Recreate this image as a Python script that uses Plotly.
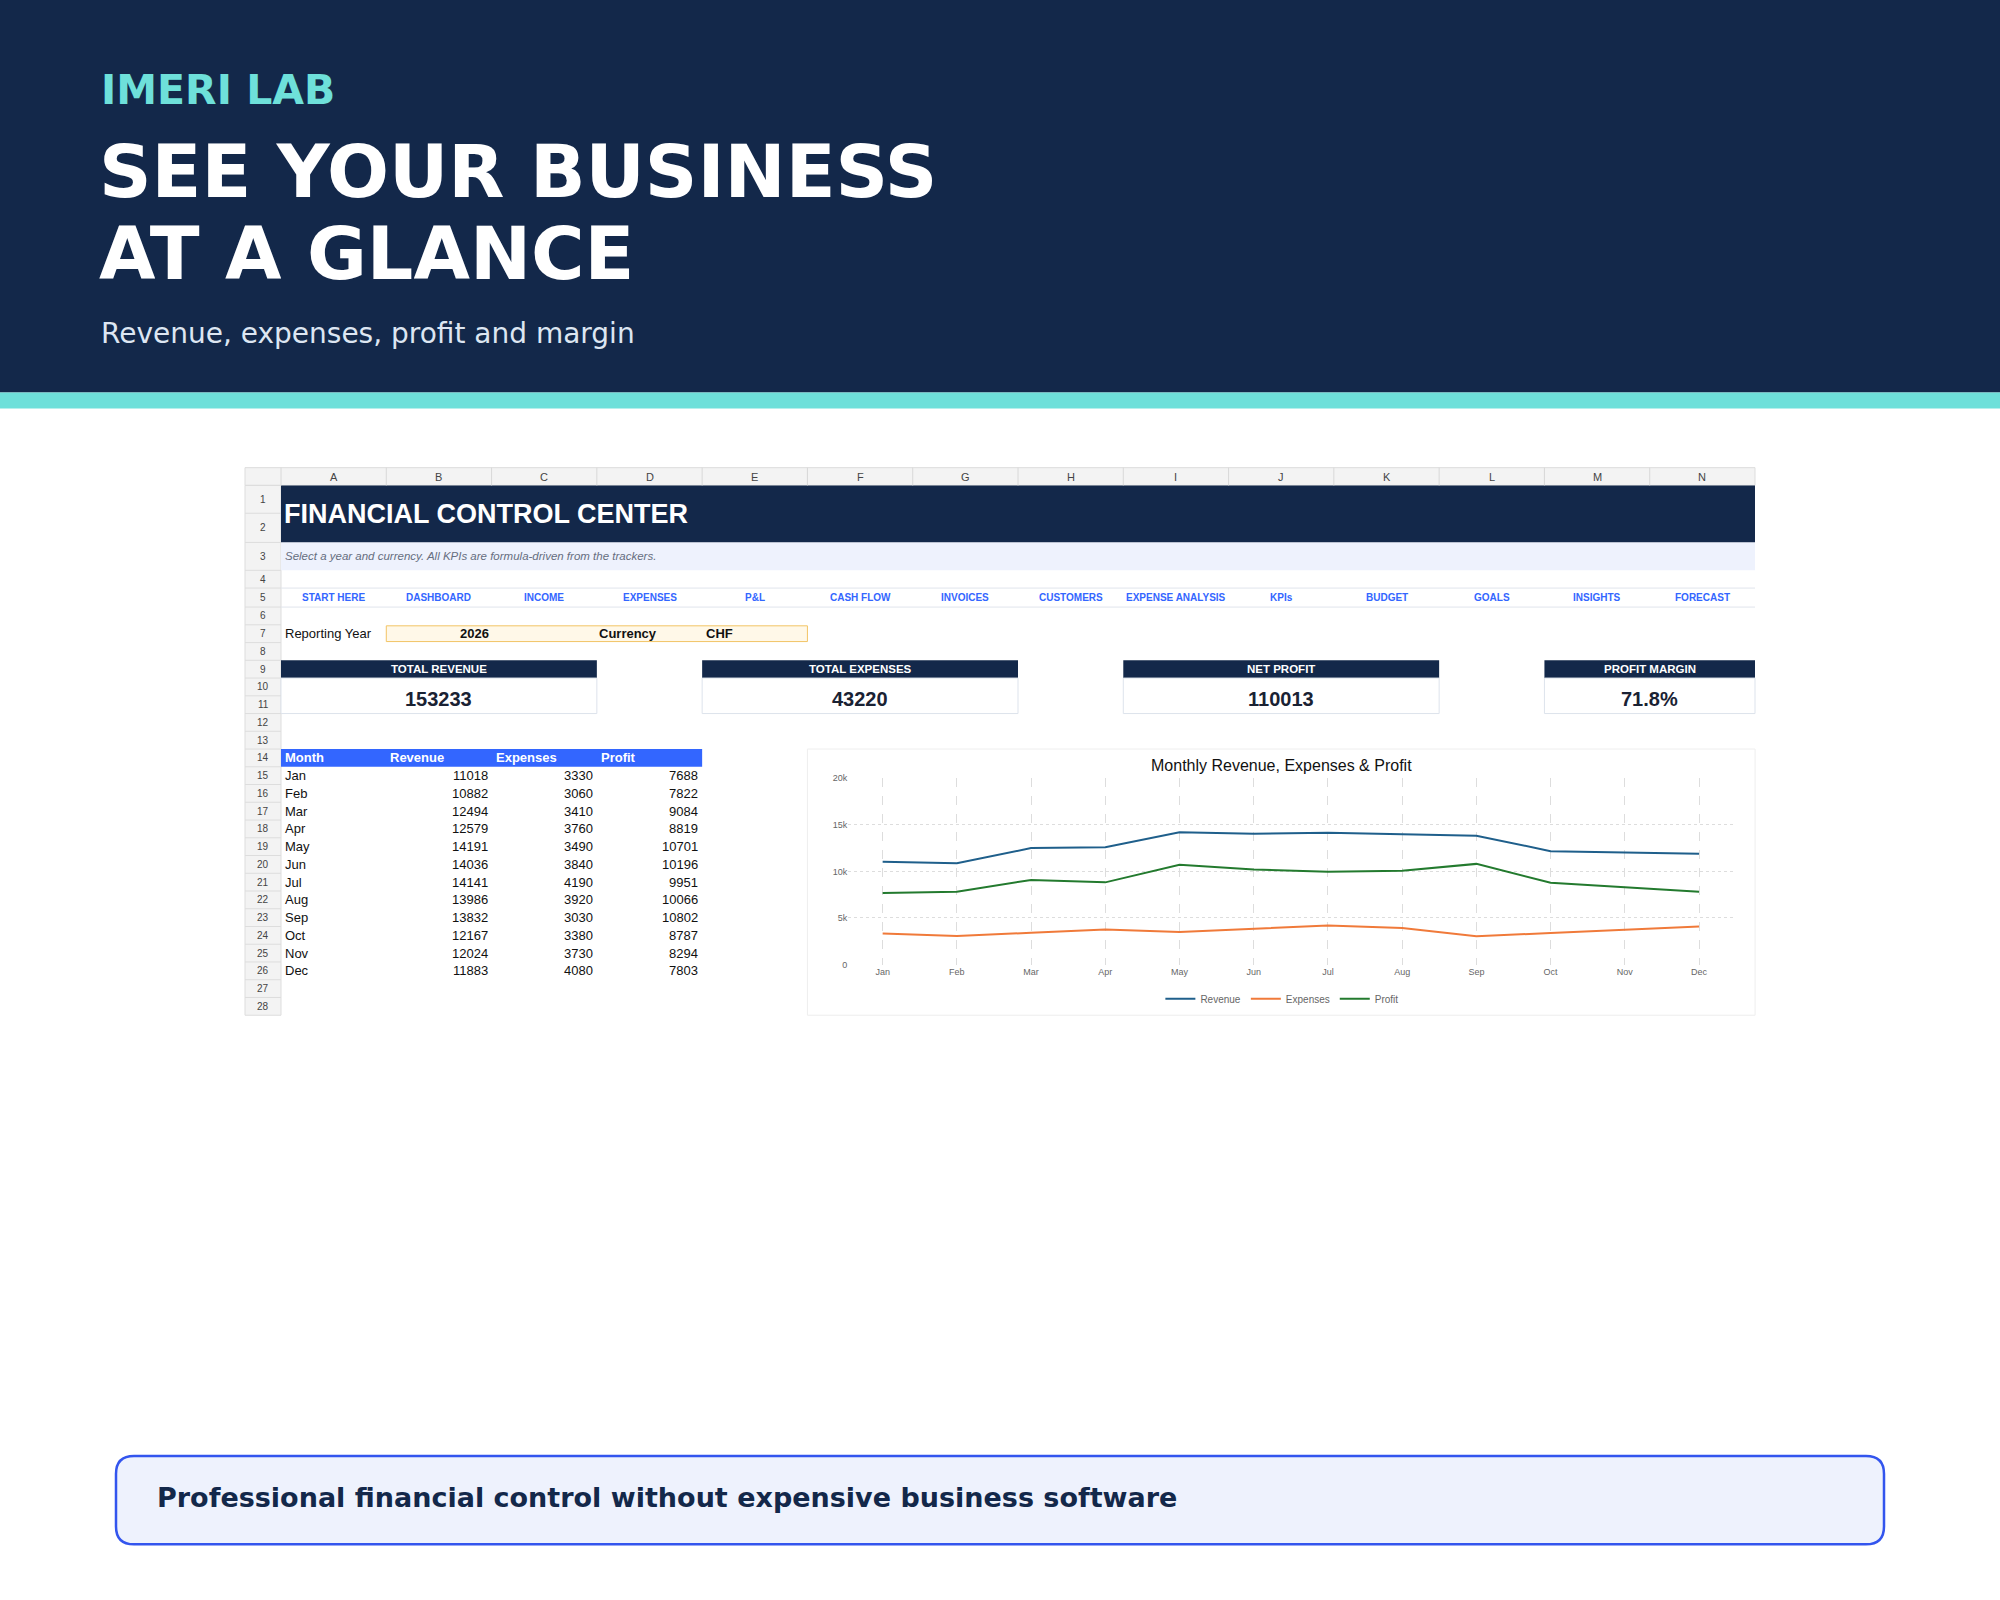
import plotly.graph_objects as go

W, H = 2000, 1600
S = 1.2755
months = ["Jan","Feb","Mar","Apr","May","Jun","Jul","Aug","Sep","Oct","Nov","Dec"]
revenue = [11018,10882,12494,12579,14191,14036,14141,13986,13832,12167,12024,11883]
expenses = [3330,3060,3410,3760,3490,3840,4190,3920,3030,3380,3730,4080]
profit = [7688,7822,9084,8819,10701,10196,9951,10066,10802,8787,8294,7803]
columns = list("ABCDEFGHIJKLMN")
nav = ["START HERE","DASHBOARD","INCOME","EXPENSES","P&L","CASH FLOW","INVOICES","CUSTOMERS",
       "EXPENSE ANALYSIS","KPIs","BUDGET","GOALS","INSIGHTS","FORECAST"]
kpi_labels = ["TOTAL REVENUE","TOTAL EXPENSES","NET PROFIT","PROFIT MARGIN"]
kpi_values = ["153233","43220","110013","71.8%"]

NAVY = "#13284a"; TEAL = "#6ee0da"; BLUE = "#3366ff"
SHEET = "Liberation Sans, Arial, sans-serif"
HEAD = "DejaVu Sans, sans-serif"

def X(p): return p / W
def Y(p): return 1 - p / H

shapes, ann = [], []
def rect(x0, y0, x1, y1, fill, line=None, lw=1):
    shapes.append(dict(type="rect", xref="paper", yref="paper", x0=X(x0), x1=X(x1), y0=Y(y1), y1=Y(y0),
                       fillcolor=fill, line=dict(color=line or fill, width=lw if line else 0), layer="below"))
def text(x, y, t, size, color="#000", font=SHEET, xa="left", bold=False, italic=False):
    if bold: t = f"<b>{t}</b>"
    if italic: t = f"<i>{t}</i>"
    ann.append(dict(xref="paper", yref="paper", x=X(x), y=Y(y), text=t, showarrow=False, xanchor=xa,
                    yanchor="middle", font=dict(size=size, color=color, family=font)))

rect(-20, -20, W + 20, 390, NAVY)
rect(-20, 390, W + 20, 406, TEAL)
text(99, 86, "IMERI LAB", 41, TEAL, HEAD, bold=True)
text(97, 168, "SEE YOUR BUSINESS", 73, "white", HEAD, bold=True)
text(97, 250, "AT A GLANCE", 73, "white", HEAD, bold=True)
text(99, 331, "Revenue, expenses, profit and margin", 28, "#dde6f2", HEAD)

rows_d = [365, 379, 401, 424, 446, 460, 475] + [475 + 14 * k for k in range(1, 24)]
R = [v * S for v in rows_d]
def rc(i): return (R[i] + R[i + 1]) / 2
X0 = 245; C0 = 281; CW = (1755 - 281) / 14
def cx(i): return C0 + i * CW

rect(X0, R[0], cx(14), R[1], "#f3f3f3", "#dddddd")
for i, c in enumerate(columns):
    shapes.append(dict(type="line", xref="paper", yref="paper", x0=X(cx(i)), x1=X(cx(i)), y0=Y(R[0]), y1=Y(R[1]),
                       line=dict(color="#d8d8d8", width=1)))
    text(cx(i) + CW / 2, rc(0), c, 11, "#444", xa="center")
rect(X0, R[1], C0, R[29], "#f3f3f3", "#dddddd")
for r in range(1, 29):
    shapes.append(dict(type="line", xref="paper", yref="paper", x0=X(X0), x1=X(C0), y0=Y(R[r]), y1=Y(R[r]),
                       line=dict(color="#dddddd", width=1)))
    text((X0 + C0) / 2, rc(r), str(r), 10, "#444", xa="center")

rect(C0, R[1], cx(14), R[3], NAVY)
text(C0 + 1, (R[1] + R[3]) / 2, "FINANCIAL CONTROL CENTER", 27, "white", bold=True)
rect(C0, R[3], cx(14), R[4], "#eef2fd")
text(C0 + 2, rc(3), "Select a year and currency. All KPIs are formula-driven from the trackers.", 11.5, "#666e80", italic=True)
for r in (5, 6):
    shapes.append(dict(type="line", xref="paper", yref="paper", x0=X(C0), x1=X(cx(14)), y0=Y(R[r]), y1=Y(R[r]), line=dict(color="#e0e4ec", width=1)))
for i, n in enumerate(nav):
    text(cx(i) + CW / 2, rc(5), n, 10, BLUE, xa="center", bold=True)
text(C0 + 2, rc(7), "Reporting Year", 13, "#111")
rect(cx(1), R[7] + 1, cx(5), R[8] - 1, "#fff8e8", "#f2c465")
text(474, rc(7), "2026", 13, "#111", xa="center", bold=True)
text(628, rc(7), "Currency", 13, "#111", xa="center", bold=True)
text(704, rc(7), "CHF", 13, "#111", bold=True)
spans = [(0, 3), (4, 7), (8, 11), (12, 14)]
for (a, b), lab, val in zip(spans, kpi_labels, kpi_values):
    rect(cx(a), R[9], cx(b), R[10], NAVY)
    text((cx(a) + cx(b)) / 2, rc(9), lab, 11.5, "white", xa="center", bold=True)
    rect(cx(a), R[10], cx(b), R[12], "white", "#dde3ec")
    text((cx(a) + cx(b)) / 2, R[11] + 3, val, 20, "#1a2233", xa="center", bold=True)
rect(C0, R[14], cx(4), R[15], BLUE)
for i, h in enumerate(["Month", "Revenue", "Expenses", "Profit"]):
    text(cx(i) + 2, rc(14), h, 13, "white", bold=True)
for k in range(12):
    r = 15 + k
    text(cx(0) + 2, rc(r), months[k], 13, "#111")
    for j, v in enumerate([revenue[k], expenses[k], profit[k]]):
        text(cx(j + 2) - 2, rc(r), str(v), 13, "#111", xa="right")

rect(633 * S, 587 * S, 1376 * S, 797 * S, "white", "#eeeeee")
text(1005 * S, 600 * S, "Monthly Revenue, Expenses & Profit", 16, "#111", xa="center")

bx0, by0, bx1, by1, rr = 116, 1460, 1884, 1549, 18
path = (f"M {X(bx0+rr)},{Y(by0)} L {X(bx1-rr)},{Y(by0)} Q {X(bx1)},{Y(by0)} {X(bx1)},{Y(by0+rr)} "
        f"L {X(bx1)},{Y(by1-rr)} Q {X(bx1)},{Y(by1)} {X(bx1-rr)},{Y(by1)} L {X(bx0+rr)},{Y(by1)} "
        f"Q {X(bx0)},{Y(by1)} {X(bx0)},{Y(by1-rr)} L {X(bx0)},{Y(by0+rr)} Q {X(bx0)},{Y(by0)} {X(bx0+rr)},{Y(by0)} Z")
shapes.append(dict(type="path", xref="paper", yref="paper", path=path, fillcolor="#eef2fd",
                   line=dict(color="#3355ee", width=2.5), layer="below"))
text(155, 1502, "Professional financial control without expensive business software", 27, NAVY, HEAD, bold=True)

fig = go.Figure()
for name, vals, col in [("Revenue", revenue, "#1f5f8b"), ("Expenses", expenses, "#f07a3a"), ("Profit", profit, "#237a2e")]:
    fig.add_trace(go.Scatter(x=list(range(12)), y=vals, mode="lines", name=name, line=dict(color=col, width=2)))

fig.update_layout(
    width=W, height=H, margin=dict(l=0, r=0, t=0, b=0), paper_bgcolor="white", plot_bgcolor="rgba(0,0,0,0)",
    shapes=shapes, annotations=ann,
    xaxis=dict(domain=[X(665 * S), X(1360 * S)], range=[-0.464, 11.48], tickvals=list(range(12)), ticktext=months,
               showgrid=True, gridcolor="#dddddd", griddash="dash", zeroline=False, showline=False,
               tickfont=dict(size=9, color="#666", family=SHEET), ticks="", fixedrange=True),
    yaxis=dict(domain=[Y(757 * S), Y(610 * S)], range=[0, 20000], tickvals=[0, 5000, 10000, 15000, 20000],
               ticktext=["0", "5k", "10k", "15k", "20k"], showgrid=True, gridcolor="#dddddd", griddash="dot",
               zeroline=False, tickfont=dict(size=9, color="#666", family=SHEET), fixedrange=True),
    legend=dict(orientation="h", x=X(1005 * S), xanchor="center", y=Y(784 * S), yanchor="middle",
                font=dict(size=10, color="#666", family=SHEET), bgcolor="rgba(0,0,0,0)"),
    showlegend=True,
)
js = ("document.documentElement.style.margin='0';document.body.style.margin='0';document.body.style.padding='0';"
      "document.body.style.overflow='hidden';document.documentElement.style.background='#13284a';"
      "var d=document.getElementById('{plot_id}');d.style.position='absolute';d.style.top='0';d.style.left='0';"
      "if(d.parentElement){d.parentElement.style.margin='0';}")
fig.write_html("out.html", config={"displayModeBar": False}, post_script=js)
